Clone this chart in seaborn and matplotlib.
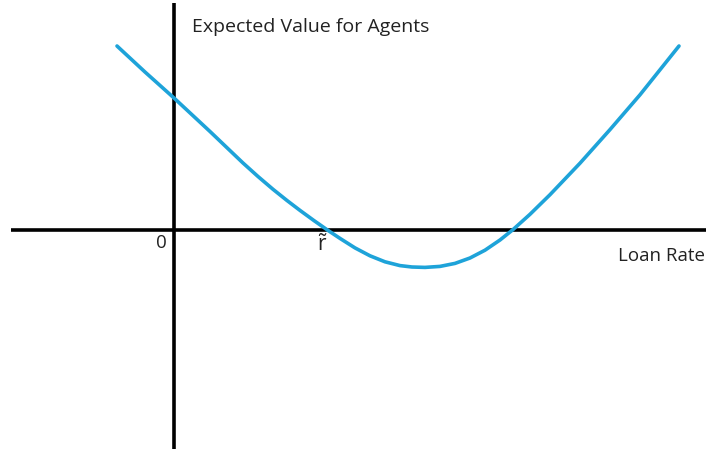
import matplotlib
matplotlib.use("Agg")
import matplotlib.pyplot as plt
import seaborn as sns
import pandas as pd

sns.set_theme(style="white")
plt.rcParams["font.family"] = ["Open Sans", "DejaVu Sans"]
plt.rcParams["mathtext.fontset"] = "custom"
plt.rcParams["mathtext.rm"] = "Open Sans"
plt.rcParams["mathtext.it"] = "Open Sans"

# Expected value of agents as a function of the loan rate (schematic units)
loan_rate = [-0.57, -0.29, 0.00, 0.36, 0.69, 0.84, 0.99, 1.13, 1.26, 1.40,
             1.54, 1.66, 1.81, 1.96, 2.11, 2.26, 2.38, 2.51, 2.66, 2.81,
             2.96, 3.11, 3.26, 3.39, 3.56, 3.76, 4.06, 4.36, 4.66, 5.05]
expected_value = [1.84, 1.58, 1.32, 0.985, 0.67, 0.535, 0.407, 0.295, 0.196, 0.094,
                  -0.004, -0.084, -0.179, -0.258, -0.318, -0.356, -0.370, -0.374, -0.364, -0.334,
                  -0.280, -0.202, -0.100, 0.004, 0.157, 0.353, 0.668, 1.004, 1.352, 1.84]

df = pd.DataFrame({"rate": loan_rate, "value": expected_value})

fig = plt.figure(figsize=(7.06, 4.55), dpi=100)
ax = fig.add_axes([0, 0, 1, 1])
ax.set_xlim(-1.74, 5.32)
ax.set_ylim(-2.25, 2.30)
ax.axis("off")

# Coordinate axes
ax.plot([-1.63, 5.32], [0, 0], color="black", lw=2.6, solid_capstyle="butt", zorder=1)
ax.plot([0, 0], [-2.19, 2.27], color="black", lw=2.6, solid_capstyle="butt", zorder=1)

sns.lineplot(data=df, x="rate", y="value", ax=ax, sort=False, estimator=None,
             color="#1ea3d9", lw=2.6, zorder=2)
for line in ax.get_lines():
    line.set_solid_joinstyle("round")

ax.text(0.18, 2.03, "Expected Value for Agents", fontsize=14, color="#222222",
        ha="left", va="center")
ax.text(-0.13, -0.13, "0", fontsize=13.5, color="#222222", ha="center", va="center")
ax.text(1.48, -0.15, r"$\tilde{\mathrm{r}}$", fontsize=15, color="#222222",
        ha="center", va="center")
ax.text(4.44, -0.26, "Loan Rate", fontsize=13.5, color="#222222", ha="left", va="center")

fig.savefig("out.png", dpi=100)
